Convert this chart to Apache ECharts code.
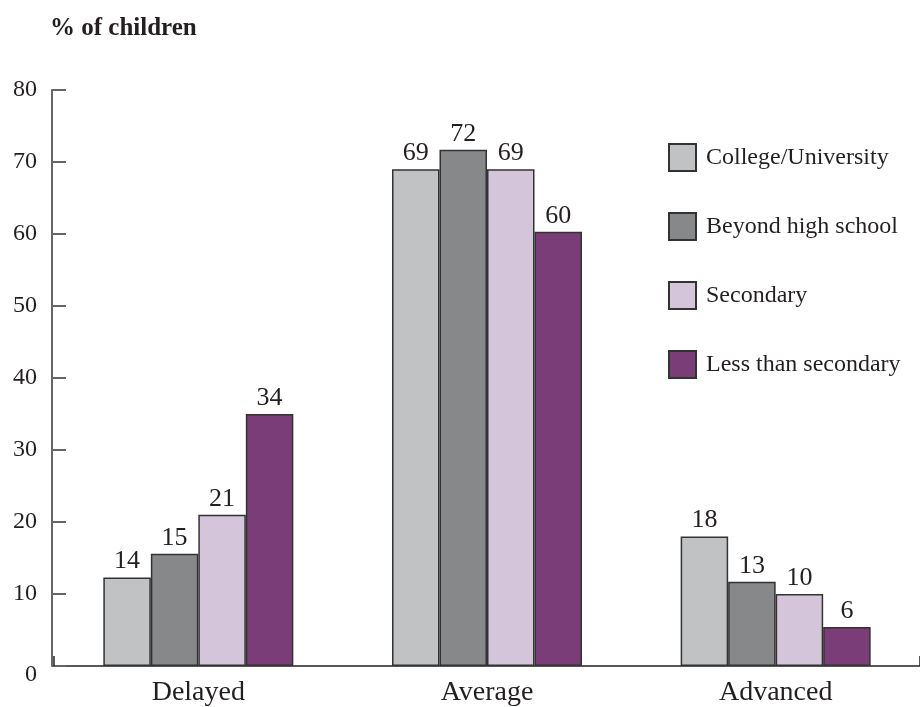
<!DOCTYPE html>
<html>
<head>
<meta charset="utf-8">
<script src="https://cdn.jsdelivr.net/npm/echarts@6/dist/echarts.min.js"></script>
<style>html,body{margin:0;padding:0;background:#fff;}#c{width:920px;height:707px;}</style>
</head>
<body>
<div id="c"></div>
<script>
var categories = ['Delayed', 'Average', 'Advanced'];
var seriesNames = ['College/University', 'Beyond high school', 'Secondary', 'Less than secondary'];
// bar heights as drawn
var collegeValues = [12.3, 69, 18];
var beyondValues = [15.6, 71.7, 11.7];
var secondaryValues = [21, 69, 10];
var lessValues = [35, 60.3, 5.4];
// printed labels
var collegeLabels = [14, 69, 18];
var beyondLabels = [15, 72, 13];
var secondaryLabels = [21, 69, 10];
var lessLabels = [34, 60, 6];
var yTicks = [0, 10, 20, 30, 40, 50, 60, 70, 80];
var colors = ['#c1c2c4', '#87888a', '#d5c5da', '#7b3d77'];

var FONT = '"Liberation Serif", "DejaVu Serif", serif';
var TXT = '#231f20';
var valuesList = [collegeValues, beyondValues, secondaryValues, lessValues];
var labelsList = [collegeLabels, beyondLabels, secondaryLabels, lessLabels];

var chart = echarts.init(document.getElementById('c'), null, {renderer: 'canvas'});
chart.setOption({
  animation: false,
  backgroundColor: '#fff',
  title: {
    text: '% of children', left: 45, top: 11,
    textStyle: {fontFamily: FONT, fontWeight: 'bold', fontSize: 25, color: TXT}
  },
  legend: {
    orient: 'vertical', left: 663, top: 138,
    itemWidth: 27, itemHeight: 27, itemGap: 40,
    icon: 'rect',
    textStyle: {fontFamily: FONT, fontSize: 24, color: TXT, padding: [0, 0, 0, 5]},
    data: seriesNames
  },
  grid: {left: 54, right: 0, top: 90, bottom: 39, containLabel: false},
  xAxis: {
    type: 'category', data: categories,
    axisLine: {show: true, lineStyle: {color: '#222', width: 1.5}},
    axisTick: {show: true, inside: true, length: 10, interval: function (i) { return i === categories.length - 1; }, lineStyle: {color: '#222', width: 1.5}},
    axisLabel: {fontFamily: FONT, fontSize: 28, color: TXT, margin: 13}
  },
  yAxis: {
    type: 'value', min: yTicks[0], max: yTicks[yTicks.length - 1], interval: yTicks[1] - yTicks[0],
    offset: 2,
    splitLine: {show: false},
    axisLine: {show: true, lineStyle: {color: '#666', width: 2}},
    axisTick: {show: true, inside: true, length: 14, lineStyle: {color: '#666', width: 2}},
    axisLabel: {
      fontFamily: FONT, fontSize: 24, color: TXT, margin: 15,
      formatter: function (v) { return v === 0 ? '{z|0}' : String(v); },
      rich: {z: {fontFamily: FONT, fontSize: 24, color: TXT, padding: [18, 0, 0, 0]}}
    }
  },
  series: seriesNames.map(function (name, si) {
    return {
      name: name, type: 'bar', barWidth: 47.5, barGap: '0%',
      itemStyle: {color: colors[si], borderColor: '#333', borderWidth: 1.5},
      label: {
        show: true, position: 'top', distance: 3,
        fontFamily: FONT, fontSize: 26, color: TXT,
        formatter: function (p) { return String(labelsList[si][p.dataIndex]); }
      },
      data: valuesList[si]
    };
  })
});
</script>
</body>
</html>
